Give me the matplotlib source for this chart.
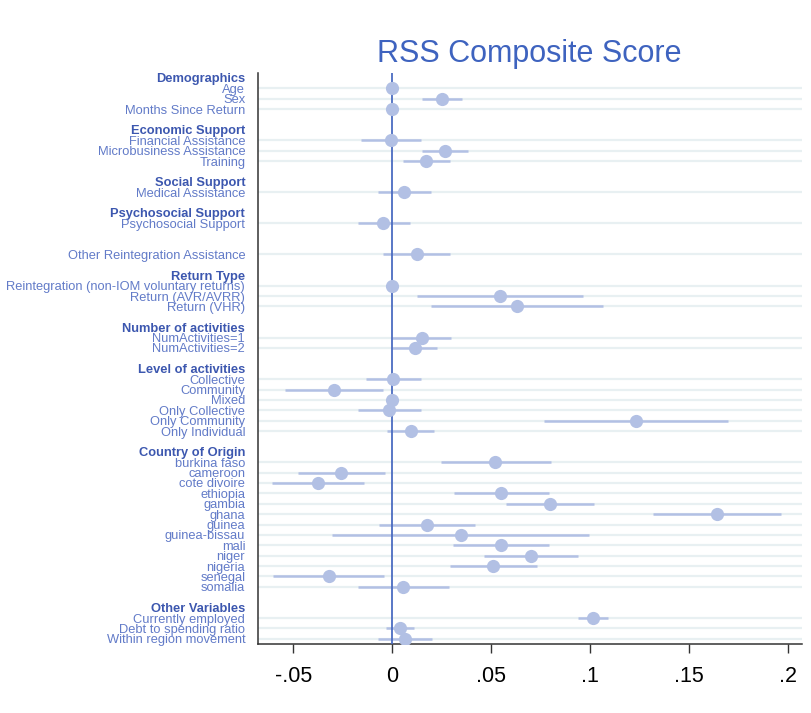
import matplotlib
matplotlib.use("Agg")
import matplotlib.pyplot as plt

plt.rcParams.update({
    'font.family': ['Liberation Sans', 'DejaVu Sans'],
    'figure.dpi': 100,
})

# coefficient plot data
GROUPS = ["Demographics", "Economic Support", "Social Support",
          "Psychosocial Support", "", "Return Type", "Number of activities",
          "Level of activities", "Country of Origin", "Other Variables"]

ITEMS = [
    ["Age", "Sex", "Months Since Return"],
    ["Financial Assistance", "Microbusiness Assistance", "Training"],
    ["Medical Assistance"],
    ["Psychosocial Support"],
    ["Other Reintegration Assistance"],
    ["Reintegration (non-IOM voluntary returns)", "Return (AVR/AVRR)", "Return (VHR)"],
    ["NumActivities=1", "NumActivities=2"],
    ["Collective", "Community", "Mixed", "Only Collective", "Only Community",
     "Only Individual"],
    ["burkina faso", "cameroon", "cote divoire", "ethiopia", "gambia", "ghana",
     "guinea", "guinea-bissau", "mali", "niger", "nigeria", "senegal", "somalia"],
    ["Currently employed", "Debt to spending ratio", "Within region movement"],
]

COEF = [0.0, 0.0251, 0.0,
        -0.0009, 0.0266, 0.0172,
        0.0058,
        -0.0045,
        0.0123,
        0.0, 0.0542, 0.0629,
        0.0148, 0.0114,
        0.0002, -0.0294, 0.0, -0.0016, 0.1232, 0.0092,
        0.0518, -0.0257, -0.0376, 0.0551, 0.0795, 0.1640, 0.0175, 0.0345,
        0.0549, 0.0703, 0.0511, -0.0322, 0.0054,
        0.1013, 0.0040, 0.0063]

CI_LO = [-0.0004, 0.0150, -0.0004,
         -0.0159, 0.0150, 0.0054,
         -0.0074,
         -0.0175,
         -0.0045,
         0.0, 0.0123, 0.0195,
         0.0, 0.0,
         -0.0135, -0.0542, 0.0, -0.0173, 0.0768, -0.0025,
         0.0244, -0.0477, -0.0607, 0.0313, 0.0573, 0.1319, -0.0069, -0.0307,
         0.0305, 0.0464, 0.0293, -0.0602, -0.0175,
         0.0939, -0.0034, -0.0074]

CI_HI = [0.0004, 0.0352, 0.0004,
         0.0145, 0.0381, 0.0293,
         0.0193,
         0.0087,
         0.0289,
         0.0, 0.0965, 0.1064,
         0.0296, 0.0224,
         0.0145, -0.0045, 0.0, 0.0145, 0.1696, 0.0211,
         0.0800, -0.0038, -0.0143, 0.0789, 0.1019, 0.1962, 0.0419, 0.0995,
         0.0791, 0.0938, 0.0733, -0.0042, 0.0287,
         0.1089, 0.0110, 0.0202]

X_TICKS = [-0.05, 0, 0.05, 0.1, 0.15, 0.2]
X_TICK_LABELS = ["-.05", "0", ".05", ".1", ".15", ".2"]

TITLE_BLUE = '#3e63bf'
HEAD_BLUE = '#3c57af'
ITEM_BLUE = '#627bc8'
DOT_BLUE = '#b2c0e4'
ZERO_BLUE = '#4b6cc1'
GRID = '#e8f0f2'

# lay out rows: header, items, blank spacer
tick_pos, tick_lab, is_head, item_pos = [], [], [], []
row = 0
for head, items in zip(GROUPS, ITEMS):
    if head:
        tick_pos.append(row)
        tick_lab.append(head)
        is_head.append(True)
    for i, it in enumerate(items):
        tick_pos.append(row + 1 + i)
        tick_lab.append(it)
        is_head.append(False)
        item_pos.append(row + 1 + i)
    row += len(items) + 2

fig = plt.figure(figsize=(8.12, 7.13))
ax = fig.add_axes([0.3174, 0.0968, 0.6699, 0.8012])

for y in item_pos:
    ax.axhline(y, color=GRID, linewidth=1.6, zorder=0)

ax.hlines(item_pos, CI_LO, CI_HI, color=DOT_BLUE, linewidth=1.8, zorder=2)
ax.axvline(0, color=ZERO_BLUE, linewidth=1.3, zorder=3)
ax.plot(COEF, item_pos, 'o', color=DOT_BLUE, markersize=9.5,
        markeredgewidth=0, zorder=4)

ax.set_xlim(-0.068, 0.2068)
ax.set_ylim(54.5, -0.5)

ax.set_yticks(tick_pos)
ax.set_yticklabels(tick_lab, fontsize=9.3)
for lab, h in zip(ax.get_yticklabels(), is_head):
    lab.set_color(HEAD_BLUE if h else ITEM_BLUE)
    if h:
        lab.set_fontweight('bold')
ax.tick_params(axis='y', length=0, pad=9)

ax.set_xticks(X_TICKS)
ax.set_xticklabels(X_TICK_LABELS, fontsize=15.5)
ax.tick_params(axis='x', length=6.5, width=1.0, color='#333333', pad=9)

for side in ('top', 'right'):
    ax.spines[side].set_visible(False)
for side in ('left', 'bottom'):
    ax.spines[side].set_color('#333333')
    ax.spines[side].set_linewidth(1.1)

ax.set_title("RSS Composite Score", fontsize=22, color=TITLE_BLUE, pad=8)

fig.savefig("out.png", dpi=100)
